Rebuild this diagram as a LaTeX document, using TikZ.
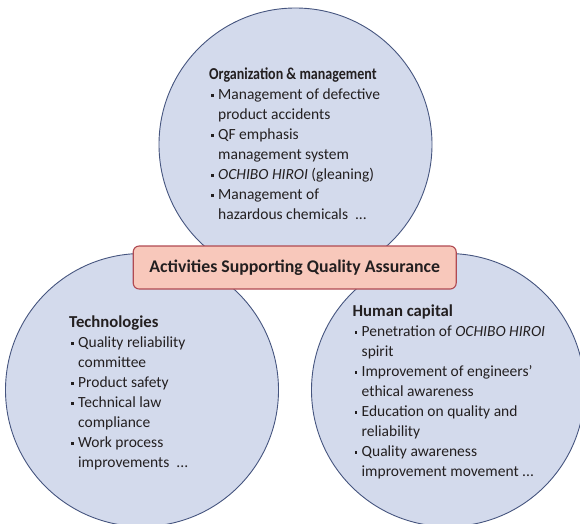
\documentclass[tikz,border=0pt]{standalone}
\usepackage{fontspec}
\setmainfont{Carlito}
\newfontfamily\condfont{Carlito}[FakeStretch=0.84]
\definecolor{circfill}{HTML}{D3DAEC}
\definecolor{circline}{HTML}{46557F}
\definecolor{boxfill}{HTML}{F8C8BB}
\definecolor{boxline}{HTML}{B04A52}
\definecolor{txt}{HTML}{231F20}
\newcommand\bul{\hspace*{0.12em}\makebox[0.46em][l]{\rule[0.22em]{0.17em}{0.17em}}}
\newcommand\cont{\hspace*{0.58em}}
\newcommand\hd[1]{{\fontsize{16.7}{20}\selectfont\bfseries #1}}

\begin{document}
\begin{tikzpicture}[x=1pt, y=-1pt,
  circ/.style={circle, draw=circline, line width=0.9pt, fill=circfill, minimum size=273pt, inner sep=0pt},
  qabox/.style={draw=boxline, line width=1.1pt, fill=boxfill, rounded corners=6pt, minimum width=323pt, minimum height=43pt, text=txt, font=\fontsize{17.8}{21}\selectfont\bfseries},
  blk/.style={anchor=north west, inner sep=0pt, align=left, text=txt, font=\fontsize{15.5}{20}\selectfont}]

  %% ════ 三个圆 ════
  \node[circ] (org)   at (295.5,144.5) {};
  \node[circ] (tech)  at (142.0,390.0) {};
  \node[circ] (human) at (448.0,390.0) {};

  %% ════ 中间的框 ════
  \node[qabox] (qa) at (294.7,267.5) {Activities Supporting Quality Assurance};

  %% ════ 文字块 ════
  \node[blk] (orgtxt) at (209,68) {%
    {\fontsize{16.7}{20}\selectfont\condfont\bfseries Organization \& management}\\
    \bul Management of defective\\
    \cont product accidents\\
    \bul QF emphasis\\
    \cont management system\\
    \bul \textit{OCHIBO HIROI} (gleaning)\\
    \bul Management of\\
    \cont hazardous chemicals\ \ ...};
  \node[blk] (techtxt) at (69,316) {%
    \hd{Technologies}\\
    \bul Quality reliability\\
    \cont committee\\
    \bul Product safety\\
    \bul Technical law\\
    \cont compliance\\
    \bul Work process\\
    \cont improvements\ \ ...};
  \node[blk] (humantxt) at (352.5,305) {%
    \hd{Human capital}\\
    \bul Penetration of \textit{OCHIBO HIROI}\\
    \cont spirit\\
    \bul Improvement of engineers’\\
    \cont ethical awareness\\
    \bul Education on quality and\\
    \cont reliability\\
    \bul Quality awareness\\
    \cont improvement movement ...};

  % 钉死画布
  \pgfresetboundingbox
  \path[use as bounding box] (0,0) rectangle (580,523);
\end{tikzpicture}
\end{document}
